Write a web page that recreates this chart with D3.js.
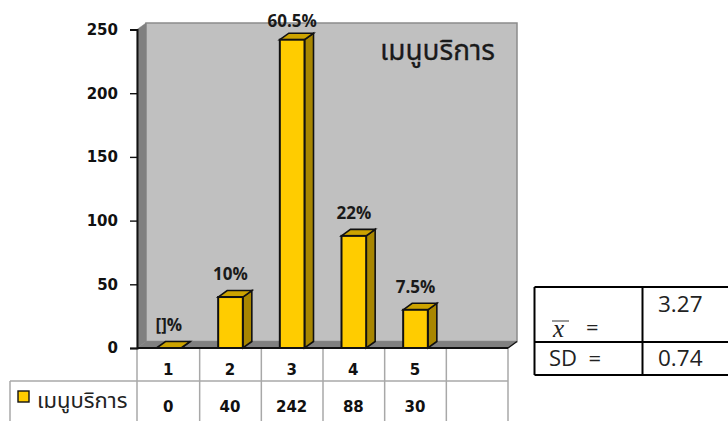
<!DOCTYPE html>
<html>
<head>
<meta charset="utf-8">
<script src="https://cdn.jsdelivr.net/npm/d3@7/dist/d3.min.js"></script>
<style>
html,body{margin:0;padding:0;background:#fff;overflow:hidden}
svg{display:block}
text{font-family:"DejaVu Sans",sans-serif}
</style>
</head>
<body>
<svg id="c" width="728" height="421"></svg>
<script>
const categories = ["1", "2", "3", "4", "5", ""];
const values = [0, 40, 242, 88, 30];
const percentLabels = ["[]%", "10%", "60.5%", "22%", "7.5%"];
const yTicks = [0, 50, 100, 150, 200, 250];
const seriesName = "เมนูบริการ";
const statRows = [["mean", "3.27"], ["SD  =", "0.74"]];

const thaiFont = '"Noto Sans","Noto Sans Thai","DejaVu Sans",sans-serif';
const labelFont = '"Open Sans",sans-serif';
const svg = d3.select("#c");
const x = d3.scaleBand().domain(categories).range([138, 508]).paddingInner(0.6).paddingOuter(0.3);
const step = x.step();
const y = d3.scaleLinear().domain([0, 250]).range([348, 29.5]);
const depthX = 9, depthY = 6.5;
const poly = pts => pts.map(p => p.join(",")).join(" ");

const plotLeft = x.range()[0] - 1, plotRight = x.range()[1], base = y(0), plotTop = y(250);

// 3D back wall, side wall and floor
svg.append("polygon").attr("points", poly([[plotLeft + depthX, plotTop - depthY], [plotRight + depthX, plotTop - depthY], [plotRight + depthX, base - depthY], [plotLeft + depthX, base - depthY]]))
  .attr("fill", "#c0c0c0").attr("stroke", "#8c8c8c").attr("stroke-width", 1.5);
svg.append("polygon").attr("points", poly([[plotLeft, plotTop], [plotLeft + depthX, plotTop - depthY], [plotLeft + depthX, base - depthY], [plotLeft, base]]))
  .attr("fill", "#808080").attr("stroke", "#808080").attr("stroke-width", 0.5);
svg.append("polygon").attr("points", poly([[plotLeft, base], [plotLeft + depthX, base - depthY], [plotRight + depthX, base - depthY], [plotRight, base]]))
  .attr("fill", "#808080").attr("stroke", "#808080").attr("stroke-width", 0.5);

// Data table grid under the plot
const grid = svg.append("g").attr("stroke", "#a8a8a8").attr("stroke-width", 1.5);
const rowY = 381, tableBottom = 421, tableLeft = 10;
d3.range(categories.length + 1).forEach(i => {
  const gx = plotLeft + i * step + (i === 0 ? 0 : 1);
  grid.append("line").attr("x1", gx).attr("x2", gx).attr("y1", base).attr("y2", tableBottom);
});
grid.append("line").attr("x1", tableLeft).attr("x2", plotRight).attr("y1", rowY).attr("y2", rowY);
grid.append("line").attr("x1", tableLeft).attr("x2", tableLeft).attr("y1", rowY).attr("y2", tableBottom);

// Bars with top and side faces
const bars = svg.append("g").selectAll("g").data(values).join("g");
const bw = x.bandwidth();
const bx = (d, i) => x(categories[i]);
bars.append("polygon").attr("fill", "#a88600").attr("stroke", "#111").attr("stroke-width", 1.6)
  .attr("points", (d, i) => poly([[bx(d, i) + bw, y(d)], [bx(d, i) + bw + depthX, y(d) - depthY], [bx(d, i) + bw + depthX, base - depthY], [bx(d, i) + bw, base]]));
bars.append("polygon").attr("fill", "#cca300").attr("stroke", "#111").attr("stroke-width", 1.6)
  .attr("points", (d, i) => poly([[bx(d, i), y(d)], [bx(d, i) + depthX, y(d) - depthY], [bx(d, i) + bw + depthX, y(d) - depthY], [bx(d, i) + bw, y(d)]]));
bars.append("rect").attr("fill", "#ffcc00").attr("stroke", "#111").attr("stroke-width", 2)
  .attr("x", (d, i) => bx(d, i)).attr("y", d => y(d)).attr("width", bw).attr("height", d => base - y(d));

// Percentage labels above each bar, kept below the top margin
svg.append("g").selectAll("text").data(values).join("text")
  .attr("x", (d, i) => bx(d, i) + bw / 2)
  .attr("y", d => Math.max(27, y(d) - 17))
  .attr("text-anchor", "middle").attr("font-size", 17).attr("font-weight", 700).attr("fill", "#1a1a1a")
  .style("font-family", labelFont)
  .text((d, i) => percentLabels[i]);

// Value axis
const axis = svg.append("g").attr("transform", `translate(${plotLeft},0)`)
  .call(d3.axisLeft(y).tickValues(yTicks).tickSize(7).tickPadding(12));
axis.select(".domain").attr("stroke", "#111").attr("stroke-width", 2);
axis.selectAll(".tick line").attr("stroke", "#111").attr("stroke-width", 1.4);
axis.selectAll("text").attr("font-size", 15).attr("font-weight", 700).attr("fill", "#111").attr("font-family", '"DejaVu Sans",sans-serif');

// Floor edge
svg.append("line").attr("x1", plotLeft).attr("x2", plotRight).attr("y1", base).attr("y2", base).attr("stroke", "#111").attr("stroke-width", 2);
svg.append("line").attr("x1", plotRight).attr("x2", plotRight + depthX).attr("y1", base).attr("y2", base - depthY).attr("stroke", "#111").attr("stroke-width", 1.4);

// Chart title
svg.append("text").attr("x", 437.5).attr("y", 60).attr("text-anchor", "middle")
  .attr("font-size", 28).attr("fill", "#1a1a1a").attr("stroke", "#1a1a1a").attr("stroke-width", 0.3)
  .style("font-family", thaiFont).text(seriesName);

// Table contents: category row and value row
svg.append("g").selectAll("text").data(categories).join("text")
  .attr("x", d => x(d) + bw / 2 - 0.5).attr("y", 375).attr("text-anchor", "middle")
  .attr("font-size", 15).attr("font-weight", 700).attr("fill", "#111").text(d => d);
svg.append("g").selectAll("text").data(values).join("text")
  .attr("x", (d, i) => bx(d, i) + bw / 2 - 0.5).attr("y", 411.5).attr("text-anchor", "middle")
  .attr("font-size", 15).attr("font-weight", 700).attr("fill", "#111").text(d => d);

// Legend key
svg.append("rect").attr("x", 18).attr("y", 391).attr("width", 11).attr("height", 11)
  .attr("fill", "#ffcc00").attr("stroke", "#111").attr("stroke-width", 1.4);
svg.append("text").attr("x", 37).attr("y", 408).attr("font-size", 22).attr("fill", "#222")
  .style("font-family", thaiFont).text(seriesName);

// Statistics table
const tx0 = 534.5, tx1 = 642.5, tx2 = 728, ty0 = 287, ty1 = 342, ty2 = 375;
const stat = svg.append("g").attr("stroke", "#000").attr("stroke-width", 2);
[[tx0, ty0, tx2, ty0], [tx0, ty1, tx2, ty1], [tx0, ty2, tx2, ty2], [tx0, ty0, tx0, ty2], [tx1, ty0, tx1, ty2]]
  .forEach(l => stat.append("line").attr("x1", l[0]).attr("y1", l[1]).attr("x2", l[2]).attr("y2", l[3]));
const statFont = '"Open Sans",sans-serif';
svg.append("text").attr("x", 658).attr("y", 312).attr("font-size", 22.5).attr("fill", "#222").style("font-family", statFont).text(statRows[0][1]);
svg.append("text").attr("x", 658).attr("y", 366).attr("font-size", 22.5).attr("fill", "#222").style("font-family", statFont).text(statRows[1][1]);
svg.append("text").attr("x", 549).attr("y", 366).attr("font-size", 22).attr("fill", "#222").style("white-space", "pre").style("font-family", statFont).text(statRows[1][0]);
svg.append("text").attr("x", 553).attr("y", 337).attr("font-size", 25).attr("font-style", "italic").attr("fill", "#222").style("font-family", '"Liberation Serif",serif').text("x");
svg.append("line").attr("x1", 552).attr("x2", 569).attr("y1", 321).attr("y2", 321).attr("stroke", "#333").attr("stroke-width", 1);
svg.append("text").attr("x", 586).attr("y", 335).attr("font-size", 22).attr("fill", "#222").style("font-family", statFont).text("=");
</script>
</body>
</html>
